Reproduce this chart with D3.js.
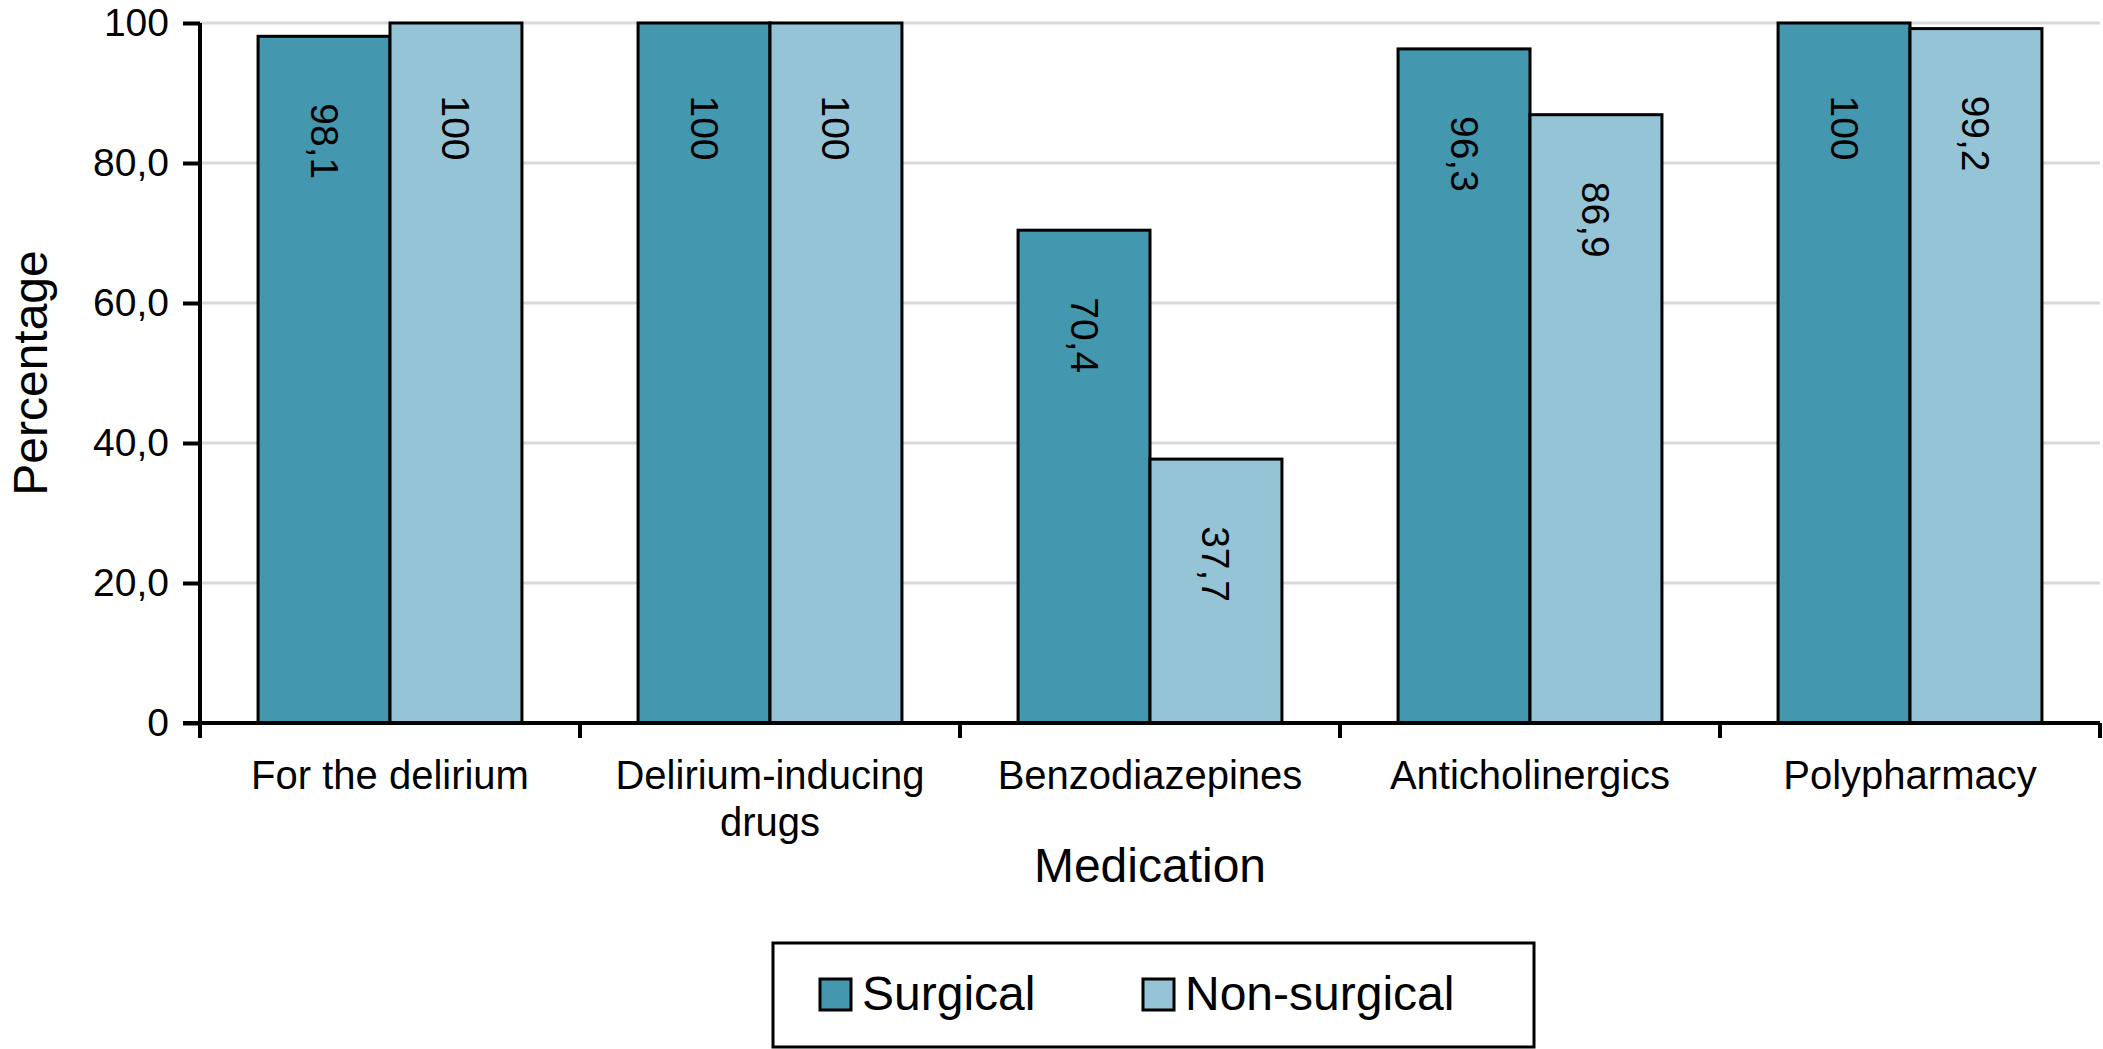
<!DOCTYPE html>
<html>
<head>
<meta charset="utf-8">
<script src="https://cdn.jsdelivr.net/npm/d3@7"></script>
<style>
  body { margin: 0; background: #fff; }
  svg { display: block; font-family: "Liberation Sans", Arial, Helvetica, sans-serif; }
</style>
</head>
<body>
<div id="chart"></div>
<script>
'use strict';

// data
var categories = ['For the delirium', 'Delirium-inducing drugs', 'Benzodiazepines', 'Anticholinergics', 'Polypharmacy'];
var categoryLines = [['For the delirium'], ['Delirium-inducing', 'drugs'], ['Benzodiazepines'], ['Anticholinergics'], ['Polypharmacy']];
var seriesNames = ['Surgical', 'Non-surgical'];
var surgical = [98.1, 100, 70.4, 96.3, 100];
var nonSurgical = [100, 100, 37.7, 86.9, 99.2];
var yTicks = [0, 20, 40, 60, 80, 100];
var yTickLabels = ['0', '20,0', '40,0', '60,0', '80,0', '100'];
var colors = ['#4398b0', '#94c4d6'];

var width = 2103, height = 1049;
var plotLeft = 200, plotRight = 2100, plotTop = 23, plotBottom = 723;

var svg = d3.select('#chart').append('svg')
    .attr('width', width)
    .attr('height', height);

var x = d3.scaleBand()
    .domain(categories)
    .range([plotLeft, plotRight]);

var xSub = d3.scaleBand()
    .domain(seriesNames)
    .range([0, x.bandwidth()])
    .paddingOuter(0.44);

var y = d3.scaleLinear()
    .domain([0, 100])
    .range([plotBottom, plotTop]);

// grid lines
svg.append('g')
    .selectAll('line')
    .data(yTicks.slice(1))
    .enter().append('line')
    .attr('x1', plotLeft)
    .attr('x2', plotRight)
    .attr('y1', function(d) { return y(d); })
    .attr('y2', function(d) { return y(d); })
    .attr('stroke', '#d9d9d9')
    .attr('stroke-width', 3);

var rows = categories.map(function(c, i) {
    return [{cat: c, name: seriesNames[0], value: surgical[i]},
            {cat: c, name: seriesNames[1], value: nonSurgical[i]}];
});

var groups = svg.append('g')
    .selectAll('g')
    .data(rows)
    .enter().append('g')
    .attr('transform', function(d) { return 'translate(' + x(d[0].cat) + ',0)'; });

groups.selectAll('rect')
    .data(function(d) { return d; })
    .enter().append('rect')
    .attr('x', function(d) { return xSub(d.name); })
    .attr('y', function(d) { return y(d.value); })
    .attr('width', xSub.bandwidth())
    .attr('height', function(d) { return y(0) - y(d.value); })
    .attr('fill', function(d, i) { return colors[i]; })
    .attr('stroke', '#000')
    .attr('stroke-width', 3);

groups.selectAll('text')
    .data(function(d) { return d; })
    .enter().append('text')
    .attr('transform', function(d) {
        var cx = xSub(d.name) + xSub.bandwidth() / 2;
        var cy = y(d.value) + 105;
        return 'translate(' + cx + ',' + cy + ') rotate(90)';
    })
    .attr('text-anchor', 'middle')
    .attr('dominant-baseline', 'central')
    .attr('font-size', 39)
    .text(function(d) { return String(d.value).replace('.', ','); });

// y axis
var yAxis = d3.axisLeft(y)
    .tickValues(yTicks)
    .tickFormat(function(d, i) { return yTickLabels[i]; })
    .tickSize(17)
    .tickPadding(14);

var gy = svg.append('g')
    .attr('transform', 'translate(' + plotLeft + ',0)')
    .call(yAxis);
gy.select('.domain').attr('stroke-width', 4).attr('d', 'M0,' + plotTop + 'V' + plotBottom);
gy.selectAll('.tick line').attr('stroke-width', 4);
gy.selectAll('.tick text').attr('font-size', 39).attr('fill', '#000')
    .attr('font-family', '"Liberation Sans", Arial, sans-serif');

// x axis: line with ticks at category boundaries
var gx = svg.append('g');
gx.append('line')
    .attr('x1', plotLeft - 17).attr('x2', plotRight)
    .attr('y1', plotBottom).attr('y2', plotBottom)
    .attr('stroke', '#000').attr('stroke-width', 4);
gx.selectAll('line.tk')
    .data(categories.concat(['end']))
    .enter().append('line')
    .attr('class', 'tk')
    .attr('x1', function(d, i) { return i < categories.length ? x(d) : plotRight; })
    .attr('x2', function(d, i) { return i < categories.length ? x(d) : plotRight; })
    .attr('y1', plotBottom)
    .attr('y2', plotBottom + 15)
    .attr('stroke', '#000').attr('stroke-width', 4);

gx.selectAll('text')
    .data(categories)
    .enter().append('text')
    .attr('x', function(d) { return x(d) + x.bandwidth() / 2; })
    .attr('y', plotBottom + 66)
    .attr('text-anchor', 'middle')
    .attr('font-size', 40)
    .each(function(d, i) {
        var t = d3.select(this);
        categoryLines[i].forEach(function(line, j) {
            t.append('tspan')
                .attr('x', x(d) + x.bandwidth() / 2)
                .attr('dy', j === 0 ? 0 : 47)
                .text(line);
        });
    });

// axis titles
svg.append('text')
    .attr('x', (plotLeft + plotRight) / 2)
    .attr('y', 882)
    .attr('text-anchor', 'middle')
    .attr('font-size', 48)
    .text('Medication');

svg.append('text')
    .attr('transform', 'translate(47,' + (plotTop + plotBottom) / 2 + ') rotate(-90)')
    .attr('text-anchor', 'middle')
    .attr('font-size', 48)
    .text('Percentage');

// legend
var legend = svg.append('g');
legend.append('rect')
    .attr('x', 773).attr('y', 943)
    .attr('width', 761).attr('height', 104)
    .attr('fill', '#fff')
    .attr('stroke', '#000')
    .attr('stroke-width', 3);

var legendX = [820, 1143];
var items = legend.selectAll('g')
    .data(seriesNames)
    .enter().append('g')
    .attr('transform', function(d, i) { return 'translate(' + legendX[i] + ',979)'; });
items.append('rect')
    .attr('width', 31).attr('height', 31)
    .attr('fill', function(d, i) { return colors[i]; })
    .attr('stroke', '#000').attr('stroke-width', 3);
items.append('text')
    .attr('x', 42)
    .attr('y', 31)
    .attr('font-size', 48)
    .text(function(d) { return d; });
</script>
</body>
</html>
